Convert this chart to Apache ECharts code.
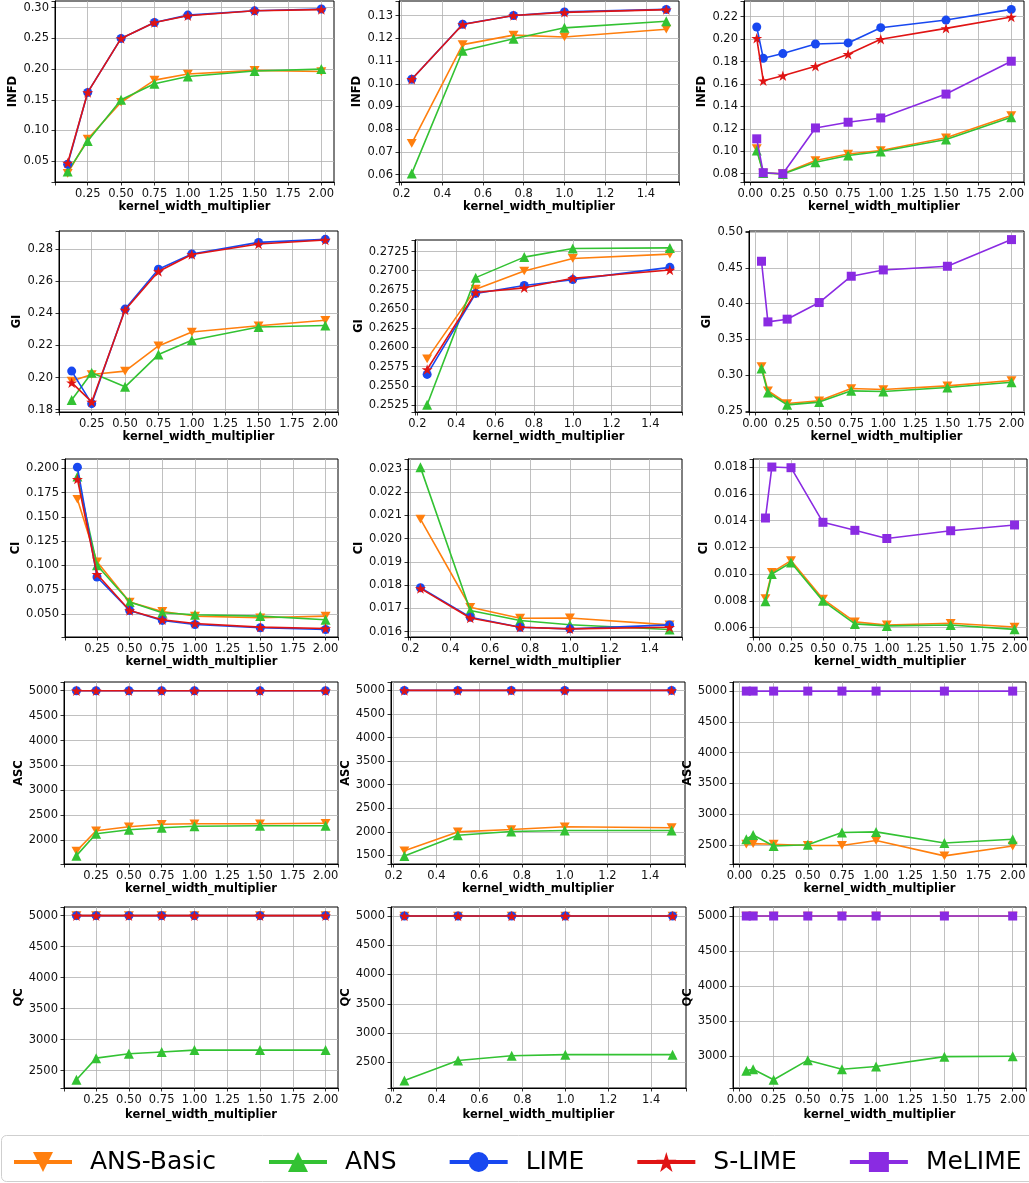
<!DOCTYPE html>
<html><head><meta charset="utf-8">
<script src="https://cdn.jsdelivr.net/npm/echarts@6/dist/echarts.min.js"></script>
<style>html,body{margin:0;padding:0;background:#fff}#c{width:1029px;height:1183px}</style>
</head><body><div id="c"></div>
<script>
// ---------------- DATA ----------------
const METHODS = ['ANS-Basic', 'ANS', 'LIME', 'S-LIME', 'MeLIME'];
const METRICS = ['INFD', 'GI', 'CI', 'ASC', 'QC'];
const X_COL1 = [0.1, 0.25, 0.5, 0.75, 1.0, 1.5, 2.0];
const X_COL2 = [0.25, 0.5, 0.75, 1.0, 1.5];
const X_COL3 = [0.05, 0.1, 0.25, 0.5, 0.75, 1.0, 1.5, 2.0];

// INFD
const INFD_1 = {'ANS-Basic':[0.030,0.086,0.146,0.182,0.192,0.198,0.196], 'ANS':[0.033,0.083,0.150,0.176,0.188,0.197,0.200],
  'LIME':[0.045,0.162,0.250,0.276,0.288,0.295,0.298], 'S-LIME':[0.047,0.162,0.250,0.276,0.287,0.295,0.297]};
const INFD_2 = {'ANS-Basic':[0.0738,0.1172,0.1214,0.1206,0.1240], 'ANS':[0.0605,0.1145,0.1198,0.1246,0.1275],
  'LIME':[0.1020,0.1262,0.1300,0.1316,0.1327], 'S-LIME':[0.1020,0.1261,0.1300,0.1314,0.1326]};
const INFD_3 = {'ANS-Basic':[0.1025,0.0806,0.0800,0.0918,0.0975,0.1007,0.1120,0.1318], 'ANS':[0.1007,0.0806,0.0797,0.0902,0.0963,0.0998,0.1105,0.1303],
  'LIME':[0.2108,0.1830,0.1871,0.1957,0.1966,0.2102,0.2170,0.2265], 'S-LIME':[0.2008,0.1629,0.1673,0.1759,0.1866,0.1999,0.2096,0.2197],
  'MeLIME':[0.1111,0.0809,0.0800,0.1208,0.1259,0.1297,0.1510,0.1803]};
// GI
const GI_1 = {'ANS-Basic':[0.1978,0.2019,0.2040,0.2197,0.2284,0.2323,0.2357], 'ANS':[0.1860,0.2030,0.1942,0.2143,0.2232,0.2315,0.2325],
  'LIME':[0.2040,0.1837,0.2427,0.2676,0.2771,0.2843,0.2862], 'S-LIME':[0.1968,0.1848,0.2421,0.2661,0.2767,0.2833,0.2858]};
const GI_2 = {'ANS-Basic':[0.25852,0.26760,0.26996,0.27160,0.27216], 'ANS':[0.25254,0.26910,0.27177,0.27289,0.27297],
  'LIME':[0.25650,0.26704,0.26807,0.26884,0.27044], 'S-LIME':[0.25714,0.26717,0.26777,0.26901,0.27009]};
const GI_3 = {'ANS-Basic':[0.3123,0.2784,0.2607,0.2644,0.2816,0.2802,0.2853,0.2928], 'ANS':[0.3095,0.2760,0.2588,0.2626,0.2783,0.2774,0.2830,0.2904],
  'MeLIME':[0.4591,0.3745,0.3783,0.4015,0.4382,0.4470,0.4521,0.4893]};
// CI
const CI_1 = {'ANS-Basic':[0.1682,0.1036,0.0621,0.0524,0.0476,0.0458,0.0476], 'ANS':[0.1917,0.1001,0.0621,0.0510,0.0489,0.0476,0.0438],
  'LIME':[0.2014,0.0880,0.0534,0.0431,0.0389,0.0355,0.0337], 'S-LIME':[0.1890,0.0908,0.0534,0.0438,0.0400,0.0362,0.0348]};
const CI_2 = {'ANS-Basic':[0.02084,0.01705,0.01658,0.01659,0.01629], 'ANS':[0.02307,0.01691,0.01648,0.01630,0.01609],
  'LIME':[0.01789,0.01662,0.01619,0.01612,0.01629], 'S-LIME':[0.01786,0.01659,0.01619,0.01612,0.01619]};
const CI_3 = {'ANS-Basic':[0.00818,0.01013,0.01101,0.00813,0.00643,0.00620,0.00633,0.00605], 'ANS':[0.00798,0.01001,0.01086,0.00800,0.00628,0.00613,0.00620,0.00587],
  'MeLIME':[0.01419,0.01800,0.01795,0.01387,0.01327,0.01266,0.01324,0.01367]};
// ASC
const ASC_1 = {'ANS-Basic':[1780,2190,2270,2320,2330,2330,2340], 'ANS':[1690,2130,2210,2250,2280,2290,2290],
  'LIME':[5000,5000,5000,5000,5000,5000,5000], 'S-LIME':[5000,5000,5000,5000,5000,5000,5000]};
const ASC_2 = {'ANS-Basic':[1600,2000,2050,2110,2090], 'ANS':[1490,1930,2010,2030,2030],
  'LIME':[5000,5000,5000,5000,5000], 'S-LIME':[5000,5000,5000,5000,5000]};
const ASC_3 = {'ANS-Basic':[2510,2520,2510,2490,2490,2570,2320,2480], 'ANS':[2590,2660,2480,2500,2700,2710,2530,2590],
  'MeLIME':[5000,5000,5000,5000,5000,5000,5000,5000]};
// QC
const QC_1 = {'ANS-Basic':[5000,5000,5000,5000,5000,5000,5000], 'ANS':[2350,2700,2770,2800,2830,2830,2830],
  'LIME':[5000,5000,5000,5000,5000,5000,5000], 'S-LIME':[5000,5000,5000,5000,5000,5000,5000]};
const QC_2 = {'ANS-Basic':[5000,5000,5000,5000,5000], 'ANS':[2190,2530,2610,2630,2630],
  'LIME':[5000,5000,5000,5000,5000], 'S-LIME':[5000,5000,5000,5000,5000]};
const QC_3 = {'ANS-Basic':[5000,5000,5000,5000,5000,5000,5000,5000], 'ANS':[2790,2810,2660,2940,2810,2850,2990,2995],
  'MeLIME':[5000,5000,5000,5000,5000,5000,5000,5000]};

const PANEL_DATA = [[INFD_1, INFD_2, INFD_3], [GI_1, GI_2, GI_3], [CI_1, CI_2, CI_3], [ASC_1, ASC_2, ASC_3], [QC_1, QC_2, QC_3]];
const X_VALUES = [X_COL1, X_COL2, X_COL3];

// axis ranges: [min, max, tick step, decimals]
const X_RANGE = [[0.005, 2.095, 0.25, 2], [0.1875, 1.5625, 0.2, 1], [-0.0475, 2.0975, 0.25, 2]];
const Y_INFD = [[0.016, 0.311, 0.05, 2], [0.0568, 0.1364, 0.01, 2], [0.0726, 0.2340, 0.02, 2]];
const Y_GI   = [[0.1785, 0.2914, 0.02, 2], [0.2516, 0.2740, 0.0025, 4], [0.2488, 0.5013, 0.05, 2]];
const Y_CI   = [[0.0260, 0.2098, 0.025, 3], [0.01577, 0.02343, 0.001, 3], [0.0053, 0.0186, 0.002, 3]];
const Y_ASC  = [[1522, 5175, 500, 0], [1320, 5178, 500, 0], [2188, 5148, 500, 0]];
const Y_QC   = [[2218, 5140, 500, 0], [2060, 5154, 500, 0], [2542, 5129, 500, 0]];
const Y_RANGE = [Y_INFD, Y_GI, Y_CI, Y_ASC, Y_QC];
const X_NAME = 'kernel_width_multiplier';

// ---------------- STYLE / LAYOUT ----------------
const COLORS = {'ANS-Basic':'#ff7f0e', 'ANS':'#33c233', 'LIME':'#1848f0', 'S-LIME':'#e01414', 'MeLIME':'#8a2be2'};
const STAR = 'path://M0,-1L0.2245,-0.309L0.951,-0.309L0.3633,0.118L0.588,0.809L0,0.382L-0.588,0.809L-0.3633,0.118L-0.951,-0.309L-0.2245,-0.309Z';
const SYMBOLS = {'ANS-Basic':'path://M0,0L2,0L1,1.732Z', 'ANS':'triangle', 'LIME':'circle', 'S-LIME':STAR, 'MeLIME':'rect'};
const SYMSIZE = {'ANS-Basic':10, 'ANS':10, 'LIME':9, 'S-LIME':11, 'MeLIME':9};
const ROW_Y = [[1,182],[231,412],[459,637],[682,864],[907,1088]];
const COL_X = [[[55,334],[399,679],[744,1024]], [[59,338],[415,682],[749,1024]], [[65,338],[408,682],[753,1027]],
               [[64,338],[391,685],[733,1026]], [[64,338],[391,686],[733,1026]]];
const YNAME_X = [[14,359,704],[18,362,707],[17,360,705],[18,363,708],[18,363,708]];
const XNAME_Y = [207, 438, 662, 890, 1116];
const FONT = 'DejaVu Sans';

function fmt(step, dec) {
  return function (v) {
    const k = v / step;
    if (Math.abs(k - Math.round(k)) > 1e-6) return '';
    return (Math.round(k) * step).toFixed(dec);
  };
}

const grids = [], xAxes = [], yAxes = [], series = [];
let idx = 0;
for (let r = 0; r < 5; r++) {
  for (let c = 0; c < 3; c++) {
    let top = ROW_Y[r][0];
    if (r === 1 && c === 1) top = 240;
    const bottom = ROW_Y[r][1];
    const [l, rt] = COL_X[r][c];
    grids.push({left: l, top: top, width: rt - l, height: bottom - top, show: true,
      borderColor: '#000', borderWidth: 1, backgroundColor: '#fff', containLabel: false, outerBoundsMode: 'none'});
    const xr = X_RANGE[c], yr = Y_RANGE[r][c];
    const common = {
      type: 'value', gridIndex: idx,
      axisLine: {show: true, onZero: false, lineStyle: {color: '#000', width: 1}},
      axisTick: {show: true, length: 3.5, lineStyle: {color: '#000', width: 0.8}},
      splitLine: {show: true, showMinLine: false, showMaxLine: false, lineStyle: {color: '#b0b0b0', width: 0.8}},
      nameTextStyle: {fontFamily: FONT, fontWeight: 'bold', fontSize: 11.5, color: '#000'},
    };
    xAxes.push(Object.assign({}, common, {
      min: xr[0], max: xr[1], minInterval: xr[2], maxInterval: xr[2],
      axisLabel: {formatter: fmt(xr[2], xr[3]), fontFamily: FONT, fontSize: 11.5, color: '#111', margin: 6},
      name: X_NAME, nameLocation: 'middle', nameGap: XNAME_Y[r] - bottom - 7
    }));
    yAxes.push(Object.assign({}, common, {
      min: yr[0], max: yr[1], minInterval: yr[2], maxInterval: yr[2],
      axisLabel: {formatter: fmt(yr[2], yr[3]), fontFamily: FONT, fontSize: 11.5, color: '#111', margin: 6},
      name: METRICS[r], nameLocation: 'middle', nameRotate: 90, nameGap: l - YNAME_X[r][c] - 7
    }));
    const pd = PANEL_DATA[r][c];
    const xs = X_VALUES[c];
    METHODS.forEach((m, mi) => {
      if (!pd[m]) return;
      series.push({
        type: 'line', name: m, xAxisIndex: idx, yAxisIndex: idx,
        data: xs.map((x, j) => [x, pd[m][j]]),
        symbol: SYMBOLS[m], symbolSize: SYMSIZE[m], symbolKeepAspect: true, showSymbol: true,
        itemStyle: {color: COLORS[m]}, lineStyle: {color: COLORS[m], width: 1.6},
        z: 2 + mi, animation: false, emphasis: {disabled: true}, silent: true, clip: false
      });
    });
    idx++;
  }
}

const chart = echarts.init(document.getElementById('c'), null, {renderer: 'canvas'});
chart.setOption({
  backgroundColor: '#fff',
  animation: false,
  grid: grids, xAxis: xAxes, yAxis: yAxes, series: series,
  legend: {
    data: METHODS, left: 7, top: 1142, orient: 'horizontal', selectedMode: false,
    itemWidth: 58, itemHeight: 25, itemGap: 51,
    lineStyle: {width: 4},
    textStyle: {fontFamily: FONT, fontSize: 25, color: '#000', padding: [0, 0, 0, 13], lineHeight: 30}
  },
  graphic: [{type: 'rect', left: 1, top: 1135, shape: {width: 1040, height: 46, r: 5},
    style: {fill: '#fff', stroke: '#cfcfcf', lineWidth: 1}, z: -1, silent: true}]
});
</script></body></html>
